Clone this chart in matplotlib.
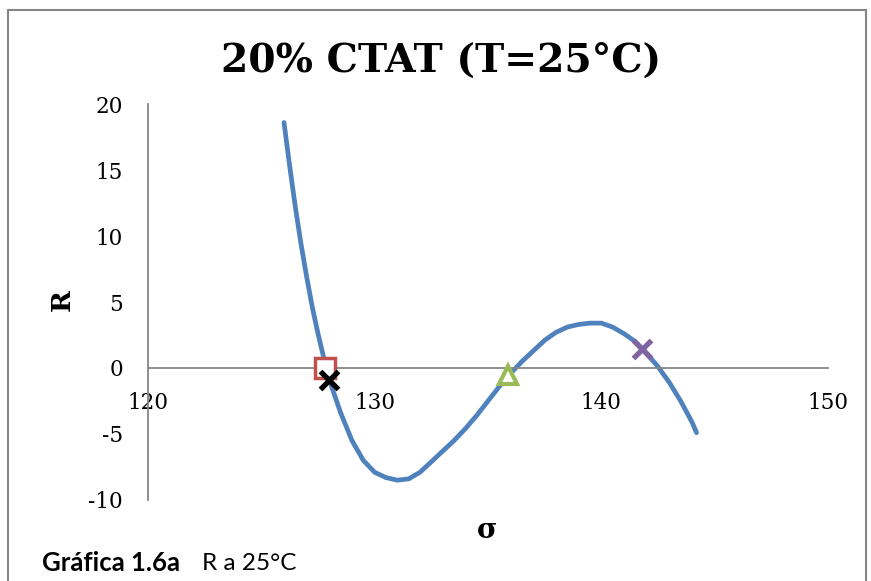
import numpy as np
import matplotlib.pyplot as plt
from matplotlib.patches import Rectangle

plt.rcParams['axes.unicode_minus'] = False

# curva R(sigma)
sigma = [126.0, 126.25, 126.5, 126.75, 127.0, 127.25, 127.5, 127.75, 128.0, 128.5,
         129.0, 129.5, 130.0, 130.5, 131.0, 131.5, 132.0, 132.5, 133.0, 133.5,
         134.0, 134.5, 135.0, 135.5, 136.0, 136.5, 137.0, 137.5, 138.0, 138.5,
         139.0, 139.5, 140.0, 140.5, 141.0, 141.5, 142.0, 142.5, 143.0, 143.5,
         144.0, 144.2]
R = [18.6, 15.3, 12.2, 9.4, 6.9, 4.6, 2.6, 0.8, -0.9, -3.4,
     -5.5, -7.0, -7.9, -8.3, -8.5, -8.4, -7.9, -7.1, -6.3, -5.5,
     -4.6, -3.6, -2.5, -1.4, -0.4, 0.5, 1.3, 2.1, 2.7, 3.1,
     3.3, 3.4, 3.4, 3.1, 2.6, 2.0, 1.1, 0.1, -1.1, -2.5,
     -4.1, -4.9]

# puntos marcados
sq_x, sq_y = [127.8], [0.0]
blk_x, blk_y = [128.0], [-0.9]
tri_x, tri_y = [135.9], [-0.5]
pur_x, pur_y = [141.8], [1.45]

xticks = [120, 130, 140, 150]
yticks = [-10, -5, 0, 5, 10, 15, 20]

fig = plt.figure(figsize=(8.71, 5.81), dpi=100)
ax = fig.add_axes([148/871, 1 - 500/581, 680/871, 396/581])

ax.plot(sigma, R, color='#4F81BD', lw=3.4, solid_capstyle='round',
        solid_joinstyle='round', zorder=2)
ax.plot(sq_x, sq_y, marker='s', ms=15, mfc='white', mec='#C0504D', mew=2.5, ls='none', zorder=3)
ax.plot(blk_x, blk_y, marker='x', ms=13, mec='black', mew=3.8, ls='none', zorder=4)
ax.plot(tri_x, tri_y, marker='^', ms=13, mfc='white', mec='#9BBB59', mew=3, ls='none', zorder=3)
ax.plot(pur_x, pur_y, marker='x', ms=13, mec='#8064A2', mew=3.8, ls='none', zorder=3)

ax.set_xlim(120, 150)
ax.set_ylim(-10, 20)
ax.set_xticks(xticks)
ax.set_yticks(yticks)

for s in ['top', 'right']:
    ax.spines[s].set_visible(False)
ax.spines['bottom'].set_position(('data', 0))
for s in ['left', 'bottom']:
    ax.spines[s].set_color('#868686')
    ax.spines[s].set_linewidth(1.3)
ax.tick_params(length=0, labelsize=15.5)
ax.tick_params(axis='x', pad=17)
ax.tick_params(axis='y', pad=18)
for lab in ax.get_xticklabels() + ax.get_yticklabels():
    lab.set_fontfamily('DejaVu Serif')

fig.text(441/871, 1 - 61/581, '20% CTAT (T=25°C)', ha='center', va='center',
         fontsize=28.3, fontweight='bold', family='DejaVu Serif')
fig.text(62/871, 1 - 300/581, 'R', ha='center', va='center', rotation=90,
         fontsize=19, fontweight='bold', family='DejaVu Serif')
fig.text(487/871, 1 - 530/581, 'σ', ha='center', va='center',
         fontsize=20, fontweight='bold', family='DejaVu Serif')

fig.text(42/871, 1 - 563/581, 'Gráfica 1.6a', ha='left', va='center',
         fontsize=18.5, fontweight='bold', family='Lato')
fig.text(202/871, 1 - 563/581, 'R a 25°C', ha='left', va='center',
         fontsize=17.5, family='Lato')

# marco del grafico
fig.patches.append(Rectangle((8/871, -0.1), 858/871, 1.1 - 10/581, transform=fig.transFigure,
                             fill=False, ec='#868686', lw=1.5, clip_on=False))

fig.savefig('out.png', dpi=100)
